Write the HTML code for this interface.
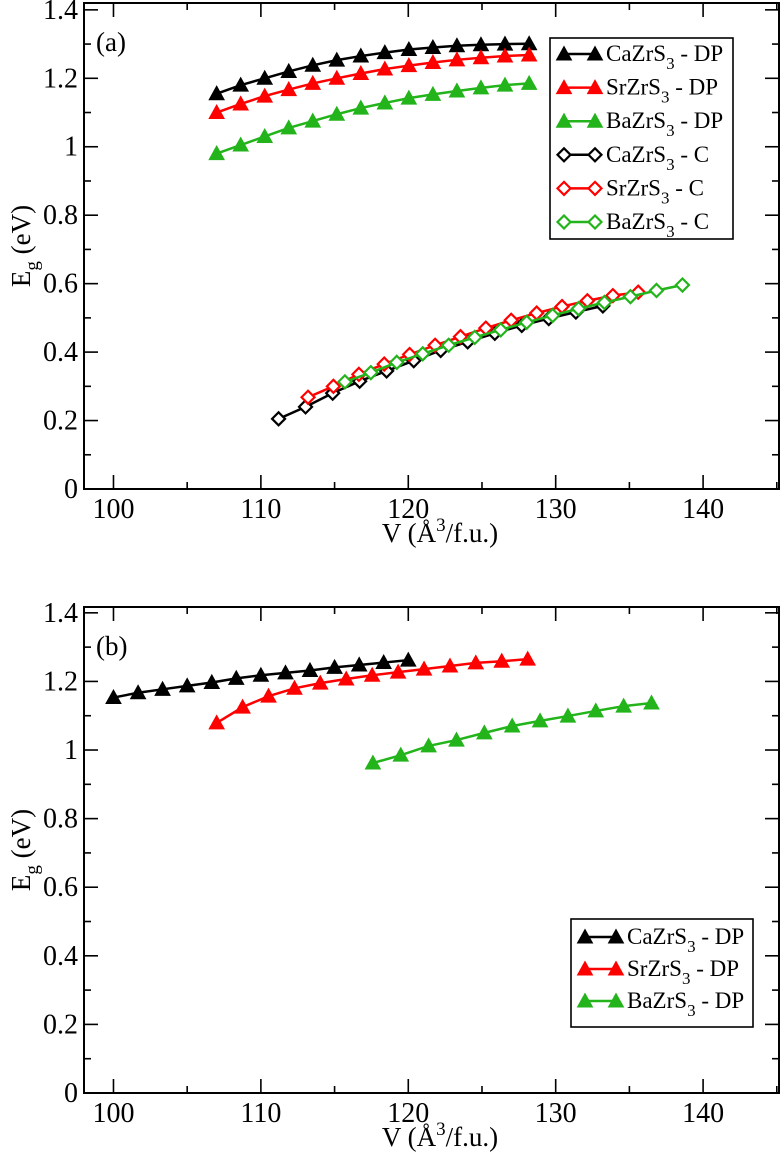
<!DOCTYPE html>
<html><head><meta charset="utf-8"><style>
html,body{margin:0;padding:0;background:#fff}
svg{display:block}
text,tspan{font-family:"Liberation Serif","Times New Roman","DejaVu Serif",serif;fill:#000}
</style></head><body>
<svg id="fig" width="780" height="1163" viewBox="0 0 780 1163" xmlns="http://www.w3.org/2000/svg" font-family="Liberation Serif, serif"></svg>
<script>
// ---- Panel (a) data ----
const aCaDPx = [107.0,108.63,110.26,111.89,113.52,115.15,116.78,118.41,120.04,121.67,123.3,124.93,126.56,128.2];
const aCaDPy = [1.155,1.18,1.20,1.22,1.238,1.253,1.265,1.275,1.284,1.29,1.295,1.298,1.30,1.301];
const aSrDPx = aCaDPx;
const aSrDPy = [1.10,1.125,1.148,1.167,1.185,1.20,1.214,1.227,1.237,1.246,1.254,1.26,1.265,1.268];
const aBaDPx = aCaDPx;
const aBaDPy = [0.98,1.005,1.03,1.055,1.075,1.095,1.113,1.128,1.142,1.153,1.163,1.172,1.18,1.185];
const aCaCx = [111.2,113.03,114.87,116.7,118.53,120.37,122.2,124.03,125.87,127.7,129.53,131.37,133.2];
const aCaCy = [0.205,0.24,0.28,0.315,0.345,0.375,0.405,0.43,0.455,0.478,0.498,0.517,0.535];
const aSrCx = [113.2,114.92,116.65,118.37,120.09,121.82,123.54,125.26,126.98,128.71,130.43,132.15,133.88,135.6];
const aSrCy = [0.268,0.30,0.335,0.365,0.393,0.42,0.445,0.47,0.493,0.514,0.533,0.55,0.565,0.575];
const aBaCx = [115.7,117.46,119.22,120.98,122.74,124.51,126.27,128.03,129.79,131.55,133.31,135.07,136.84,138.6];
const aBaCy = [0.313,0.34,0.37,0.395,0.42,0.443,0.465,0.487,0.507,0.527,0.545,0.562,0.58,0.596];
// ---- Panel (b) data ----
const bCaDPx = [100,101.67,103.33,105,106.67,108.33,110,111.67,113.33,115,116.67,118.33,120];
const bCaDPy = [1.153,1.167,1.177,1.187,1.197,1.209,1.218,1.225,1.232,1.241,1.248,1.255,1.262];
const bSrDPx = [107,108.76,110.52,112.28,114.03,115.79,117.55,119.31,121.07,122.83,124.58,126.34,128.1];
const bSrDPy = [1.079,1.125,1.157,1.18,1.195,1.207,1.218,1.227,1.236,1.245,1.254,1.259,1.265];
const bBaDPx = [117.6,119.49,121.38,123.27,125.16,127.05,128.94,130.83,132.72,134.61,136.5];
const bBaDPy = [0.962,0.985,1.012,1.029,1.05,1.07,1.085,1.099,1.114,1.128,1.137];
const xTicks = [100,110,120,130,140];
const yTicks = [0,0.2,0.4,0.6,0.8,1,1.2,1.4];
const yTickLabels = ["0","0.2","0.4","0.6","0.8","1","1.2","1.4"];

const NS="http://www.w3.org/2000/svg";
const svg=document.getElementById('fig');
function mk(tag,attrs,parent){const e=document.createElementNS(NS,tag);for(const k in attrs)e.setAttribute(k,attrs[k]);(parent||svg).appendChild(e);return e;}

const BLACK="#000",RED="#ff0000",GREEN="#22b41a";

function panel(cfg){
  const g=mk('g',{});
  
  
  const L=84,R=779,T=cfg.top,B=cfg.bottom;
  const xmin=98,xmax=145.15,ymin=0,ymax=cfg.ymax;
  const X=v=>L+(v-xmin)/(xmax-xmin)*(R-L);
  const Y=v=>B-(v-ymin)/(ymax-ymin)*(B-T);
  const tg=mk('g',{stroke:'#000','stroke-width':1.6},g);
  
  
  for(let v=100;v<=145;v+=5){
    const len=(v%10===0)?14:7;const x=X(v);
    mk('line',{x1:x,y1:B,x2:x,y2:B-len},tg);
    mk('line',{x1:x,y1:T,x2:x,y2:T+len},tg);
  }
  for(let i=0;i<=14;i++){
    const v=i*0.1;const len=(i%2===0)?14:7;const y=Y(v);
    mk('line',{x1:L,y1:y,x2:L+len,y2:y},tg);
    mk('line',{x1:R,y1:y,x2:R-len,y2:y},tg);
  }
  const frame=mk('rect',{x:L,y:T,width:R-L,height:B-T,fill:'none',stroke:'#000','stroke-width':2},g);
  
  
  xTicks.forEach(v=>{
    const t=mk('text',{x:X(v),y:B+29,'font-size':28,'text-anchor':'middle'},g);
    
    
    t.textContent=v;
  });
  yTicks.forEach((v,i)=>{
    const t=mk('text',{x:L-6,y:Y(v)+9,'font-size':28,'text-anchor':'end'},g);
    
    
    t.textContent=yTickLabels[i];
  });
  const xt=mk('text',{x:440,y:B+53,'font-size':27,'text-anchor':'middle'},g);
  
  
  xt.innerHTML='V (Å<tspan dy="-11" font-size="19">3</tspan><tspan dy="11">/f.u.)</tspan>';
  const cy=(T+B)/2;
  const yt=mk('text',{x:0,y:0,'font-size':27,'text-anchor':'middle',transform:`translate(30,${cy}) rotate(-90)`},g);
  
  
  yt.innerHTML='E<tspan dy="8" font-size="19">g</tspan><tspan dy="-8"> (eV)</tspan>';
  const pl=mk('text',{x:96,y:T+48,'font-size':27},g);
  
  
  pl.textContent=cfg.label;
  cfg.series.forEach(s=>{
    const sg=mk('g',{},g);
    
    
    const pts=s.x.map((v,i)=>X(v)+','+Y(s.y[i])).join(' ');
    mk('polyline',{points:pts,fill:'none',stroke:s.color,'stroke-width':2.5},sg);
    s.x.forEach((v,i)=>{
      const m=marker(sg,s.type,X(v),Y(s.y[i]),s.color);
      
      
    });
  });
  const lg=mk('g',{},g);
  
  
  const lb=cfg.legend;
  mk('rect',{x:lb.x,y:lb.y,width:lb.w,height:lb.h,fill:'#fff',stroke:'#000','stroke-width':1.6},lg);
  cfg.series.forEach((s,i)=>{
    const ey=lb.y+lb.first+i*lb.step;
    const eg=mk('g',{},lg);
    
    
    const x1=lb.x+14,x2=lb.x+45;
    mk('line',{x1:x1,y1:ey,x2:x2,y2:ey,stroke:s.color,'stroke-width':2.5},eg);
    marker(eg,s.type,x1,ey,s.color);
    marker(eg,s.type,x2,ey,s.color);
    const t=mk('text',{x:lb.x+56,y:ey+7,'font-size':23},eg);
    t.innerHTML=s.label[0]+'<tspan dy="8" font-size="17">3</tspan><tspan dy="-8">'+s.label[1]+'</tspan>';
  });
}
function marker(parent,type,x,y,color){
  if(type==='tri'){
    return mk('polygon',{points:`${x-7.5},${y+6} ${x+7.5},${y+6} ${x},${y-7.5}`,fill:color,stroke:color,'stroke-width':1},parent);
  }
  return mk('polygon',{points:`${x},${y-6.5} ${x+6.5},${y} ${x},${y+6.5} ${x-6.5},${y}`,fill:'#fff',stroke:color,'stroke-width':2.2},parent);
}

panel({name:'panel-a',label:'(a)',top:3,bottom:489,ymax:1.42,
  legend:{x:550,y:38,w:183,h:201,first:16,step:33.6},
  series:[
    {name:'series-cazrs3-dp',type:'tri',color:BLACK,x:aCaDPx,y:aCaDPy,label:['CaZrS',' - DP']},
    {name:'series-srzrs3-dp',type:'tri',color:RED,x:aSrDPx,y:aSrDPy,label:['SrZrS',' - DP']},
    {name:'series-bazrs3-dp',type:'tri',color:GREEN,x:aBaDPx,y:aBaDPy,label:['BaZrS',' - DP']},
    {name:'series-cazrs3-c',type:'dia',color:BLACK,x:aCaCx,y:aCaCy,label:['CaZrS',' - C']},
    {name:'series-srzrs3-c',type:'dia',color:RED,x:aSrCx,y:aSrCy,label:['SrZrS',' - C']},
    {name:'series-bazrs3-c',type:'dia',color:GREEN,x:aBaCx,y:aBaCy,label:['BaZrS',' - C']}
  ]});
panel({name:'panel-b',label:'(b)',top:607,bottom:1093,ymax:1.417,
  legend:{x:571,y:919,w:182,h:108,first:18,step:32},
  series:[
    {name:'series-cazrs3-dp',type:'tri',color:BLACK,x:bCaDPx,y:bCaDPy,label:['CaZrS',' - DP']},
    {name:'series-srzrs3-dp',type:'tri',color:RED,x:bSrDPx,y:bSrDPy,label:['SrZrS',' - DP']},
    {name:'series-bazrs3-dp',type:'tri',color:GREEN,x:bBaDPx,y:bBaDPy,label:['BaZrS',' - DP']}
  ]});
</script>
</body></html>
